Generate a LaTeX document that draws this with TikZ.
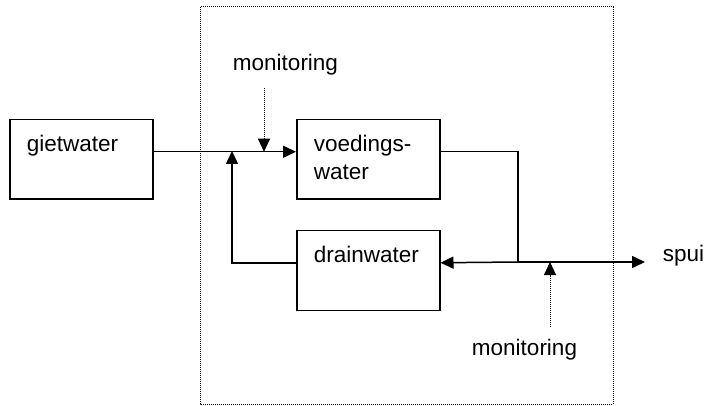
\documentclass[tikz,border=0pt]{standalone}
\usepackage{fontspec}
\setmainfont{Liberation Sans}
\usetikzlibrary{arrows.meta}

\begin{document}
\begin{tikzpicture}[x=0.5pt, y=-0.5pt, line width=0.75pt,
  >={Triangle[length=6.5pt,width=6pt]},
  every node/.style={font=\fontsize{11.25}{14}\selectfont},
  blok/.style={draw, shape=rectangle, anchor=north west, align=left,
    inner xsep=8.5pt, inner ysep=0pt, text width=54.5pt, minimum width=71.5pt,
    text height=16pt, text depth=23.75pt},
  stip/.style={line width=0.5pt, dash pattern=on 0.5pt off 0.5pt}]
\useasboundingbox (0,0) rectangle (706,406);
\draw [stip] (200,7) rectangle (613,404);
\node [blok] (giet) at (9,119) {gietwater};
\node [blok] (voed) at (296,119) {voedings-\\water};
\node [blok] (drain) at (296,230) {drainwater};
\node [anchor=base] (mon1) at (285.5,71) {monitoring};
\node [anchor=base] (mon2) at (524.5,355) {monitoring};
\node [anchor=base west, inner xsep=8.5pt] (spui) at (645,262) {spui};
\coordinate (terug) at (232,151);
\coordinate (split) at (518,262);
\coordinate (m1) at (264,88);
\coordinate (m2) at (550,327);
\draw [->] (giet.base east) -- (voed.base west);
\draw [->] (drain.base west) -| (terug);
\draw (voed.base east) -| (split);
\draw [->] (split) -- (drain.base east);
\draw [->] (split) -- (spui.base west);
\draw [->, stip] (m1) -- (m1 |- giet.base east);
\draw [->, stip] (m2) -- (m2 |- split);
\end{tikzpicture}
\end{document}
